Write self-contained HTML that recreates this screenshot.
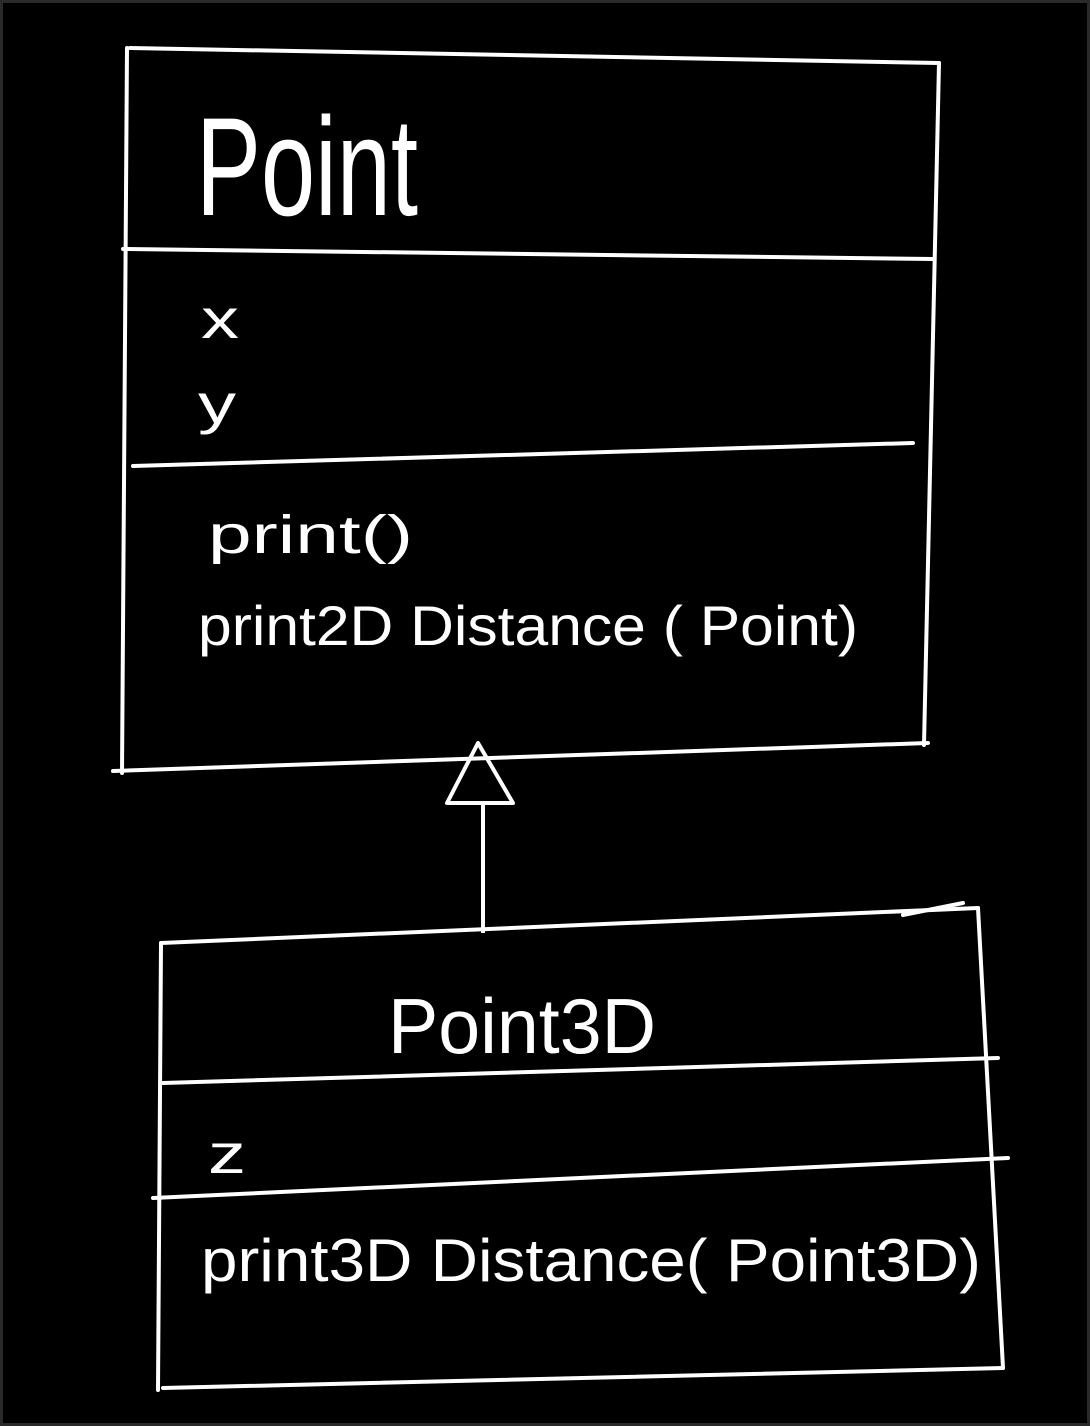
<!DOCTYPE html>
<html>
<head>
<meta charset="utf-8">
<style>
html,body{margin:0;padding:0;background:#000;}
#wrap{width:1090px;height:1426px;position:relative;overflow:hidden;background:#000;box-sizing:border-box;border:3px solid #2a2a2a;}
svg{position:absolute;left:0;top:0;}
text{font-family:"Liberation Sans",sans-serif;fill:#fff;}
</style>
</head>
<body>
<div id="wrap">
<svg width="1090" height="1426" viewBox="0 0 1090 1426">
 <g stroke="#fff" stroke-width="4" fill="none" stroke-linecap="round">
  <line x1="127" y1="45" x2="936" y2="60"/>
  <line x1="124" y1="45" x2="119" y2="770"/>
  <line x1="936" y1="60" x2="921" y2="742"/>
  <line x1="120" y1="246" x2="930" y2="256"/>
  <line x1="130" y1="463" x2="910" y2="440"/>
  <line x1="110" y1="768" x2="925" y2="740"/>
 </g>
 <text x="193" y="212" font-size="140" textLength="222" lengthAdjust="spacingAndGlyphs">Point</text>
 <text x="198" y="335" font-size="56" textLength="38" lengthAdjust="spacingAndGlyphs">x</text>
 <text x="195" y="420" font-size="56" textLength="38" lengthAdjust="spacingAndGlyphs">y</text>
 <text x="205" y="550" font-size="54" textLength="205" lengthAdjust="spacingAndGlyphs">print()</text>
 <text x="195" y="642" font-size="56" textLength="660" lengthAdjust="spacingAndGlyphs">print2D Distance ( Point)</text>

 <g stroke="#fff" stroke-width="4" fill="none" stroke-linejoin="round">
  <polygon points="475,740 444,800 510,800"/>
  <line x1="480" y1="800" x2="480" y2="930"/>
 </g>

 <g stroke="#fff" stroke-width="4" fill="none" stroke-linecap="round">
  <line x1="158" y1="940" x2="975" y2="905"/>
  <line x1="900" y1="912" x2="960" y2="900"/>
  <line x1="158" y1="940" x2="155" y2="1387"/>
  <line x1="975" y1="905" x2="1000" y2="1365"/>
  <line x1="160" y1="1080" x2="995" y2="1055"/>
  <line x1="150" y1="1195" x2="1005" y2="1155"/>
  <line x1="160" y1="1385" x2="1000" y2="1365"/>
 </g>
 <text x="385" y="1050" font-size="78" textLength="268" lengthAdjust="spacingAndGlyphs">Point3D</text>
 <text x="205" y="1170" font-size="56" textLength="38" lengthAdjust="spacingAndGlyphs">z</text>
 <text x="198" y="1278" font-size="60" textLength="780" lengthAdjust="spacingAndGlyphs">print3D Distance( Point3D)</text>
</svg>
</div>
</body>
</html>
